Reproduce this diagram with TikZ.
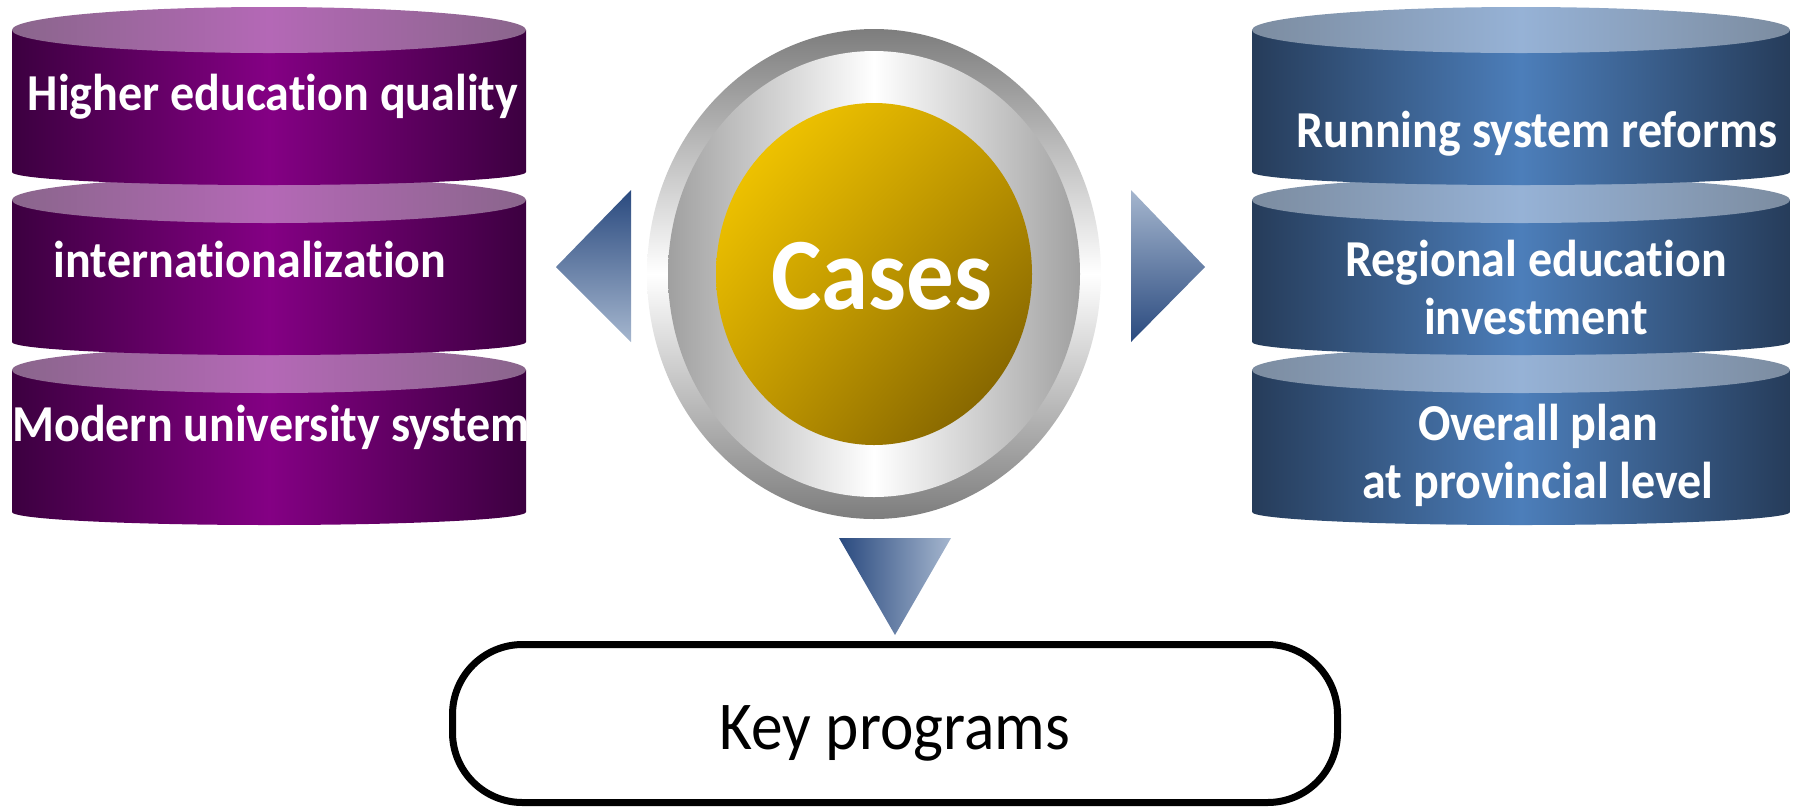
\documentclass[tikz,border=0pt]{standalone}
\usepackage{fontspec}
\usepackage{graphicx}
\setmainfont{Carlito}[RawFeature={-liga}]
\usetikzlibrary{calc,shadings}
\definecolor{pdark}{RGB}{60,0,64}
\definecolor{pmid}{RGB}{132,0,132}
\definecolor{ptopedge}{RGB}{138,102,140}
\definecolor{ptopmid}{RGB}{180,104,182}
\definecolor{bdark}{RGB}{38,60,90}
\definecolor{bmid}{RGB}{76,126,186}
\definecolor{btopedge}{RGB}{124,140,160}
\definecolor{btopmid}{RGB}{150,178,214}
\definecolor{adark}{RGB}{42,74,127}
\definecolor{alight}{RGB}{165,182,206}
\definecolor{ringgray}{RGB}{125,125,125}
\definecolor{ring2}{RGB}{160,160,160}
\definecolor{goldA}{RGB}{255,210,0}
\definecolor{goldM}{RGB}{196,154,0}
\definecolor{goldB}{RGB}{112,84,0}
\newcommand\vst[1]{\scalebox{1}[1.08]{#1}}
% cylinder: x1 x2 top-centre bottom-sides bodyedge bodymid topedge topmid
\newcommand\mycyl[8]{%
  \shade[left color=#5, right color=#5, middle color=#6]
    (#1,#3) -- (#1,#4) arc[start angle=180, end angle=0, x radius={(#2-#1)/2}, y radius=13] -- (#2,#3) -- cycle;
  \shade[left color=#7, right color=#7, middle color=#8]
    ({(#1+#2)/2},#3) ellipse[x radius={(#2-#1)/2}, y radius=23];
}
\tikzset{
  cyltext/.style={text=white, font=\fontsize{24}{27}\selectfont\bfseries, align=center, inner sep=0pt},
  casestext/.style={text=white, font=\fontsize{47.5}{50}\selectfont\bfseries, inner sep=0pt},
  kpbox/.style={draw=black, line width=3.5pt, rounded corners=35pt, fill=white,
    minimum width=442.5pt, minimum height=79pt, inner sep=0pt,
    font=\fontsize{31.7}{36}\selectfont},
}
\begin{document}
\begin{tikzpicture}[x=0.5pt,y=-0.5pt]
\useasboundingbox (0,0) rectangle (1805,810);
% left stack (bottom first)
\mycyl{12}{526}{370}{512}{pdark}{pmid}{ptopedge}{ptopmid}
\mycyl{12}{526}{200}{342}{pdark}{pmid}{ptopedge}{ptopmid}
\mycyl{12}{526}{30}{172}{pdark}{pmid}{ptopedge}{ptopmid}
% right stack
\mycyl{1252}{1790}{370}{512}{bdark}{bmid}{btopedge}{btopmid}
\mycyl{1252}{1790}{200}{342}{bdark}{bmid}{btopedge}{btopmid}
\mycyl{1252}{1790}{30}{172}{bdark}{bmid}{btopedge}{btopmid}
% texts
\node[cyltext] (l1) at (273,97) {\vst{Higher education quality}};
\node[cyltext] (l2) at (250,259) {\vst{internationalization}};
\node[cyltext] (l3) at (271,427) {\vst{Modern university system}};
\node[cyltext] (r1) at (1537,134) {\vst{Running system reforms}};
\node[cyltext] (r2) at (1536,294) {\vst{\begin{tabular}{@{}c@{}}Regional education\\investment\end{tabular}}};
\node[cyltext] (r3) at (1538,458) {\vst{\begin{tabular}{@{}c@{}}Overall plan\\at provincial level\end{tabular}}};
% centre disc
\coordinate (ctr) at (874,274);
\shade[top color=ringgray, bottom color=ringgray, middle color=white] (ctr) ellipse[x radius=227, y radius=245];
\shade[left color=ring2, right color=ring2, middle color=white] (ctr) ellipse[x radius=206, y radius=223];
\shade[upper left=goldA, upper right=goldM, lower left=goldM, lower right=goldB] (ctr) ellipse[x radius=158, y radius=171];
\node[casestext] (cases) at (882,276) {\vst{Cases}};
% key programs
\node[kpbox] (kp) at (895,723.5) {\raisebox{-5pt}[\height][\depth]{\vst{Key programs}}};
% arrow triangles
\coordinate (lt) at (631,190); \coordinate (lb) at (631,342); \coordinate (ltip) at (556,267);
\coordinate (rt) at (1131,190); \coordinate (rb) at (1131,342); \coordinate (rtip) at (1205,267);
\coordinate (dl) at (839,538); \coordinate (dr) at (951,538);
\shade[top color=adark, bottom color=alight] (ltip) -- (lt) -- (lb) -- cycle;
\shade[top color=alight, bottom color=adark] (rtip) -- (rt) -- (rb) -- cycle;
\shade[left color=adark, right color=alight] (dl) -- (dr) -- ($(kp.north)+(0,-6)$) -- cycle;
\end{tikzpicture}
\end{document}
